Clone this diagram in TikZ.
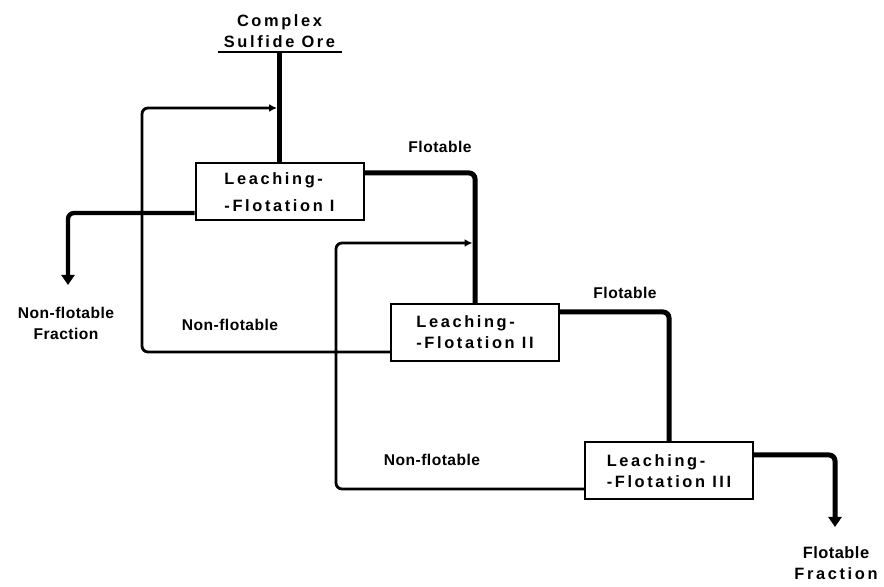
\documentclass[tikz,border=0pt]{standalone}
\usepackage{fontspec}
\setmainfont{Liberation Sans}
\newfontfamily\widefont[LetterSpace=16]{Liberation Sans}
\newfontfamily\tightfont[LetterSpace=3]{Liberation Sans}
\usetikzlibrary{arrows.meta,positioning}

\begin{document}
\begin{tikzpicture}[
  x=0.5pt,y=-0.5pt,
  every node/.style={font=\widefont\bfseries\fontsize{8.2}{10.5}\selectfont},
  stage/.style={rectangle,draw,line width=1pt,fill=white,
                minimum width=84pt,minimum height=28.5pt,align=left,inner sep=0pt},
  flowlabel/.style={font=\tightfont\bfseries\fontsize{7.8}{10.5}\selectfont,align=center},
  feedpipe/.style={line width=2.5pt},
  flotpipe/.style={line width=2.5pt,rounded corners=3pt},
  tailpipe/.style={line width=2.2pt,rounded corners=3pt,-{Triangle[length=5pt,width=6.5pt]}},
  recycle/.style={line width=1.4pt,rounded corners=3pt,-{Latex[length=4pt,width=4pt]}}
]
\useasboundingbox (0,0) rectangle (884,587);

%% ---- feed ----
\node[anchor=south,align=center,inner sep=2pt] (ore) at (279.5,52) {Complex\\Sulfide Ore};
\draw[line width=0.8pt] ([xshift=-31pt]ore.south) -- ([xshift=31pt]ore.south);

%% ---- leaching-flotation stages ----
\node[stage] (lf1) at (279.5,192) {Leaching-\\[3pt]-Flotation I};
\node[stage] (lf2) at (475,332.5) {Leaching-\\-Flotation II};
\node[stage] (lf3) at (669,471) {Leaching-\\-Flotation III};

%% ---- end points and bends ----
\coordinate (tailend) at (68,285);
\coordinate (concend) at (835,527);
\coordinate (c1) at (142,108);
\coordinate (c2) at (336,243);

%% ---- flotable line ----
\draw[feedpipe] (ore.south) -- (lf1.north);
\draw[flotpipe] ([yshift=9.5pt]lf1.east) -| (lf2.north);
\draw[flotpipe] ([yshift=10.25pt]lf2.east) -| (lf3.north);
\draw[tailpipe,line width=2.5pt] ([yshift=8pt]lf3.east) -| (concend);

%% ---- non-flotable line ----
\draw[tailpipe] ([yshift=-10.5pt]lf1.west) -| (tailend);
\draw[recycle] ([yshift=-9.75pt]lf2.west) -| (c1) -- ([xshift=-1.25pt]lf1.north |- c1);
\draw[recycle] ([yshift=-9pt]lf3.west) -| (c2) -- ([xshift=-1.25pt]lf2.north |- c2);

%% ---- labels ----
\node[flowlabel] (flot1) at (440,147) {Flotable};
\node[flowlabel] (flot2) at (625,293) {Flotable};
\node[flowlabel] (nonflot2) at (230,325) {Non-flotable};
\node[flowlabel] (nonflot3) at (432,460) {Non-flotable};
\node[flowlabel] (tails) at (66,323) {Non-flotable\\Fraction};
\node[align=center] (conc) at (836,563) {{\tightfont Flotable}\\Fraction};

\end{tikzpicture}
\end{document}
